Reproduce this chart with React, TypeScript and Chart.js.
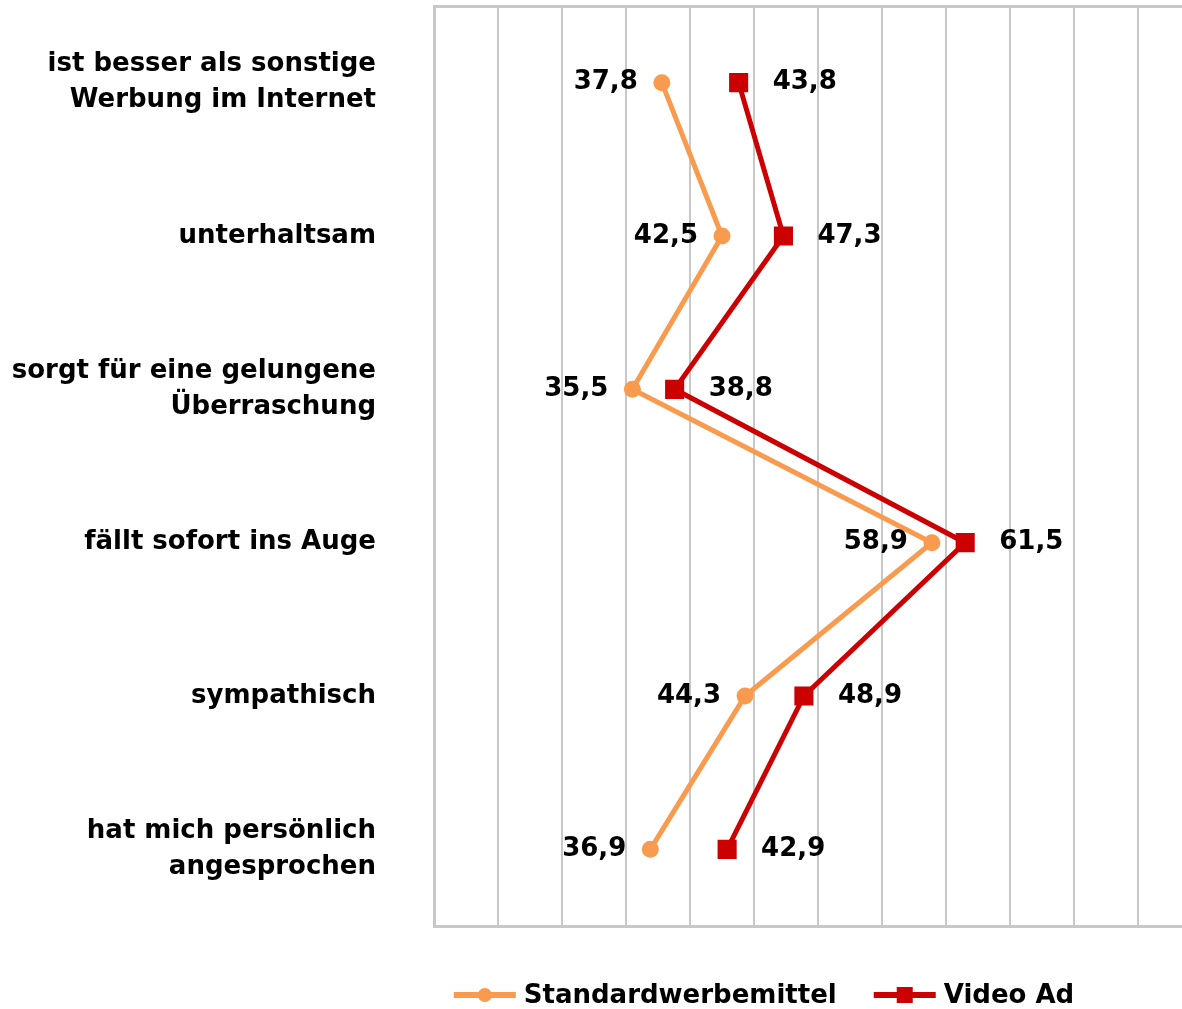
import React, { useEffect, useRef } from "react";
import { Chart, registerables } from "chart.js";

Chart.register(...registerables);

// ---- data ----
const categories: (string | string[])[] = [
  ["ist besser als sonstige", "Werbung im Internet"],
  "unterhaltsam",
  ["sorgt für eine gelungene", "Überraschung"],
  "fällt sofort ins Auge",
  "sympathisch",
  ["hat mich persönlich", "angesprochen"],
];
const seriesNames = ["Standardwerbemittel", "Video Ad"];
const standardValues = [37.8, 42.5, 35.5, 58.9, 44.3, 36.9];
const videoAdValues = [43.8, 47.3, 38.8, 61.5, 48.9, 42.9];
const axisMin = 20;
const axisMax = 80;
const axisStep = 5;

// ---- styles ----
const ORANGE = "#F99B4F";
const RED = "#CC0000";
const GRID = "#C8C8C8";
const FONT = "'DejaVu Sans', Verdana, sans-serif";
const FONT_SIZE = 26;

const fmt = (v: number) => v.toFixed(1).replace(".", ",");

const zeroPad = (s: any) => {
  s.paddingTop = 0;
  s.paddingBottom = 0;
  s.paddingLeft = 0;
  s.paddingRight = 0;
};

const dataLabelPlugin = {
  id: "dataLabels",
  afterDatasetsDraw(chart: any) {
    const ctx = chart.ctx as CanvasRenderingContext2D;
    ctx.save();
    ctx.font = `bold ${FONT_SIZE}px ${FONT}`;
    ctx.fillStyle = "#000";
    ctx.textBaseline = "middle";
    chart.data.datasets.forEach((ds: any, di: number) => {
      const meta = chart.getDatasetMeta(di);
      meta.data.forEach((pt: any, i: number) => {
        const txt = fmt(ds.data[i] as number);
        if (di === 0) {
          ctx.textAlign = "right";
          ctx.fillText(txt, pt.x - 24, pt.y);
        } else {
          ctx.textAlign = "left";
          ctx.fillText(txt, pt.x + 34, pt.y);
        }
      });
    });
    ctx.restore();
  },
};

const legendPlugin = {
  id: "lineLegend",
  afterDraw(chart: any) {
    const ctx = chart.ctx as CanvasRenderingContext2D;
    ctx.save();
    ctx.font = `bold ${FONT_SIZE}px ${FONT}`;
    ctx.textBaseline = "middle";
    ctx.textAlign = "left";
    const lineLen = 62;
    const gap = 8;
    const itemGap = 37;
    const cy = 995;
    const items = chart.data.datasets.map((ds: any) => ({
      label: ds.label as string,
      color: ds.borderColor as string,
      style: ds.pointStyle as string,
      w: ctx.measureText(ds.label).width,
    }));
    const total =
      items.reduce((s: number, it: any) => s + lineLen + gap + it.w, 0) +
      itemGap * (items.length - 1);
    let x = 764 - total / 2;
    items.forEach((it: any) => {
      ctx.strokeStyle = it.color;
      ctx.lineWidth = 6;
      ctx.beginPath();
      ctx.moveTo(x, cy);
      ctx.lineTo(x + lineLen, cy);
      ctx.stroke();
      ctx.fillStyle = it.color;
      const mx = x + lineLen / 2;
      if (it.style === "rect") {
        ctx.fillRect(mx - 8, cy - 8, 16, 16);
      } else {
        ctx.beginPath();
        ctx.arc(mx, cy, 7, 0, Math.PI * 2);
        ctx.fill();
      }
      ctx.fillStyle = "#000";
      ctx.fillText(it.label, x + lineLen + gap, cy + 1);
      x += lineLen + gap + it.w + itemGap;
    });
    ctx.restore();
  },
};

export default function App() {
  const ref = useRef<HTMLCanvasElement | null>(null);

  useEffect(() => {
    if (!ref.current) return;
    Chart.defaults.font.family = FONT;
    const chart = new Chart(ref.current, {
      type: "line",
      data: {
        labels: categories as any,
        datasets: [
          {
            label: seriesNames[0],
            data: standardValues,
            borderColor: ORANGE,
            backgroundColor: ORANGE,
            borderWidth: 5,
            pointStyle: "circle",
            pointRadius: 8.5,
            pointBorderWidth: 0,
            pointBackgroundColor: ORANGE,
            tension: 0,
          },
          {
            label: seriesNames[1],
            data: videoAdValues,
            borderColor: RED,
            backgroundColor: RED,
            borderWidth: 5,
            pointStyle: "rect",
            pointRadius: 13.5,
            pointBorderWidth: 0,
            pointBackgroundColor: RED,
            tension: 0,
          },
        ],
      },
      options: {
        indexAxis: "y",
        responsive: false,
        animation: false,
        layout: { autoPadding: false, padding: { top: 6, bottom: 83, left: 0, right: 0 } },
        plugins: {
          legend: { display: false },
          tooltip: { enabled: false },
        },
        scales: {
          x: {
            type: "linear",
            position: "bottom",
            min: axisMin,
            max: axisMax,
            ticks: { display: false, stepSize: axisStep },
            grid: { color: GRID, lineWidth: 2, drawTicks: false },
            border: { display: true, color: GRID, width: 3 },
            afterFit: (s: any) => {
              s.height = 0;
              zeroPad(s);
            },
          },
          x2: {
            type: "linear",
            position: "top",
            min: axisMin,
            max: axisMax,
            ticks: { display: false },
            grid: { display: false, drawTicks: false },
            border: { display: true, color: GRID, width: 3 },
            afterFit: (s: any) => {
              s.height = 0;
              zeroPad(s);
            },
          },
          y: {
            type: "category",
            offset: true,
            grid: { display: false, drawTicks: false },
            border: { display: true, color: GRID, width: 3 },
            ticks: {
              color: "#000",
              padding: 58,
              font: { family: FONT, size: FONT_SIZE, weight: "bold", lineHeight: 1.38 },
            },
            afterFit: (s: any) => {
              s.width = 434;
              zeroPad(s);
            },
          },
        },
      } as any,
      plugins: [dataLabelPlugin, legendPlugin],
    });
    return () => chart.destroy();
  }, []);

  return (
    <div
      style={{
        position: "absolute",
        left: 0,
        top: 0,
        width: 1182,
        height: 1009,
        overflow: "hidden",
        background: "#fff",
      }}
    >
      <canvas ref={ref} width={1202} height={1009} style={{ display: "block" }} />
    </div>
  );
}
